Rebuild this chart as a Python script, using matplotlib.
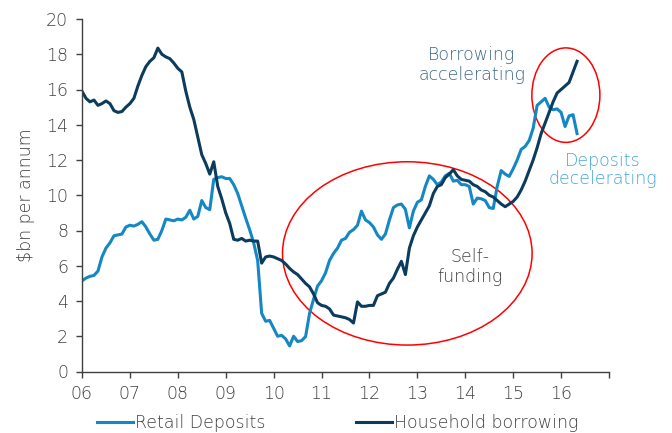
import matplotlib
matplotlib.use("Agg")
import matplotlib.pyplot as plt
from matplotlib.patches import Ellipse
import numpy as np

# monthly values, Jan 2006 .. May 2016, $bn per annum
household_borrowing = [
    15.9, 15.5, 15.3, 15.4, 15.1, 15.2, 15.35, 15.2, 14.8, 14.7, 14.75, 15.0,
    15.2, 15.5, 16.2, 16.8, 17.3, 17.6, 17.8, 18.35, 18.0, 17.85, 17.75, 17.5,
    17.2, 17.0, 15.9, 15.0, 14.3, 13.3, 12.3, 11.8, 11.2, 11.9, 10.5, 9.8,
    9.0, 8.4, 7.5, 7.45, 7.55, 7.4, 7.45, 7.4, 7.4, 6.15, 6.5, 6.55,
    6.5, 6.4, 6.3, 6.1, 5.85, 5.65, 5.5, 5.25, 5.0, 4.8, 4.4, 3.9,
    3.75, 3.7, 3.55, 3.2, 3.15, 3.1, 3.05, 2.95, 2.75, 3.95, 3.7, 3.7,
    3.75, 3.75, 4.3, 4.4, 4.5, 5.0, 5.3, 5.8, 6.25, 5.5, 7.0, 7.7,
    8.2, 8.6, 9.0, 9.4, 10.1, 10.5, 10.6, 11.0, 11.2, 11.45, 11.1, 10.9,
    10.85, 10.8, 10.6, 10.5, 10.3, 10.2, 10.0, 9.9, 9.7, 9.5, 9.35, 9.5,
    9.65, 9.9, 10.3, 10.8, 11.4, 12.0, 12.7, 13.5, 14.1, 14.7, 15.3, 15.8,
    16.0, 16.2, 16.4, 17.0, 17.6,
]
retail_deposits = [
    5.15, 5.3, 5.4, 5.45, 5.7, 6.5, 7.0, 7.3, 7.7, 7.75, 7.8, 8.2,
    8.3, 8.25, 8.35, 8.5, 8.2, 7.8, 7.45, 7.5, 8.0, 8.65, 8.6, 8.55,
    8.65, 8.6, 8.75, 9.15, 8.65, 8.8, 9.7, 9.3, 9.18, 10.9, 11.0, 11.05,
    10.95, 10.95, 10.6, 10.1, 9.4, 8.7, 8.04, 7.3, 6.3, 3.3, 2.85, 2.9,
    2.45, 2.0, 2.05, 1.85, 1.45, 2.0, 1.7, 1.75, 1.98, 3.3, 4.1, 4.85,
    5.15, 5.6, 6.3, 6.7, 7.0, 7.45, 7.55, 7.9, 8.05, 8.3, 9.1, 8.6,
    8.45, 8.2, 7.75, 7.5, 7.8, 8.6, 9.3, 9.45, 9.5, 9.2, 8.15, 9.1,
    9.6, 9.74, 10.5, 11.1, 10.9, 10.6, 10.75, 11.1, 11.25, 10.8, 10.85, 10.6,
    10.6, 10.5, 9.5, 9.84, 9.8, 9.7, 9.3, 9.25, 10.5, 11.4, 11.2, 11.07,
    11.5, 12.0, 12.6, 12.77, 13.1, 13.8, 15.1, 15.3, 15.5, 15.0, 14.85, 14.9,
    14.7, 13.9, 14.5, 14.57, 13.5,
]
year_ticks = list(range(2006, 2018))
year_labels = ["06", "07", "08", "09", "10", "11", "12", "13", "14", "15", "16", ""]

dep_col = "#1487c4"
bor_col = "#0b3c5d"
txt_col = "#404040"
fs = 12.5

plt.rcParams['font.family'] = ['DejaVu Sans']

fig = plt.figure(figsize=(6.72, 4.33), dpi=100)
ax = fig.add_axes([82/672, 1 - 371.5/433, (609-82)/672, (371.5-19)/433])

t_dep = 2006 + np.arange(len(retail_deposits)) / 12
t_bor = 2006 + np.arange(len(household_borrowing)) / 12
ax.plot(t_dep, retail_deposits, color=dep_col, lw=2.2, label="Retail Deposits")
ax.plot(t_bor, household_borrowing, color=bor_col, lw=2.2, label="Household borrowing")

ax.set_xlim(2006, 2017)
ax.set_ylim(0, 20)
ax.set_xticks(year_ticks)
ax.set_xticklabels(year_labels)
ax.set_yticks(range(0, 21, 2))
for s in ["top", "right"]:
    ax.spines[s].set_visible(False)
for s in ["left", "bottom"]:
    ax.spines[s].set_color(txt_col)
    ax.spines[s].set_linewidth(1.0)
ax.tick_params(colors=txt_col, labelsize=fs, length=4, width=1, pad=6)
for lab in ax.get_xticklabels() + ax.get_yticklabels():
    lab.set_fontweight("light")
ax.set_ylabel("$bn per annum", color=txt_col, fontsize=fs, labelpad=8,
              fontweight="light")

# annotation ellipses
ax.add_patch(Ellipse((2012.79, 6.7), 5.21, 10.4, fill=False, ec="red", lw=1.1))
ax.add_patch(Ellipse((2016.1, 15.68), 1.42, 5.36, fill=False, ec="red", lw=1.1))

ax.text(2014.09, 5.95, "Self-\nfunding", ha="center", va="center", color=txt_col,
        fontsize=fs, linespacing=1.15, fontweight="light")
ax.text(2014.14, 17.39, "Borrowing\naccelerating", ha="center", va="center",
        color="#3d6688", fontsize=fs, linespacing=1.15, fontweight="light")
ax.text(2016.875, 11.45, "Deposits\ndecelerating", ha="center", va="center",
        color="#45a5d8", fontsize=fs, linespacing=1.0, clip_on=False,
        fontweight="light")

fig.legend(loc="center left", bbox_to_anchor=(97/672, 0.024), ncol=2, frameon=False,
           borderpad=0, borderaxespad=0, handlelength=2.07, handletextpad=0.12,
           columnspacing=5.2, prop={"size": fs, "weight": "light"},
           labelcolor=txt_col)

fig.savefig("out.png", dpi=100)
